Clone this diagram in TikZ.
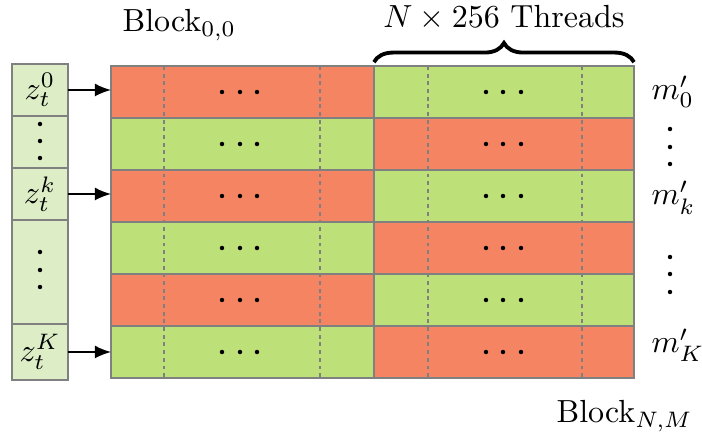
\documentclass[tikz,border=0pt]{standalone}
\usetikzlibrary{decorations.pathreplacing,arrows.meta}
\definecolor{cellorange}{RGB}{245,133,98}
\definecolor{cellgreen}{RGB}{189,224,120}
\definecolor{idxgreen}{RGB}{221,238,199}
\definecolor{edgegray}{RGB}{128,128,128}
\begin{document}
\begin{tikzpicture}[x=0.3125pt,y=-0.3125pt,
  cellbox/.style={draw=edgegray, line width=0.65pt, inner sep=0pt, outer sep=0pt,
    minimum height=52*0.3125pt},
  lefthalf/.style={cellbox, minimum width=263*0.3125pt},
  righthalf/.style={cellbox, minimum width=260*0.3125pt},
  idxcell/.style={draw=edgegray, line width=0.65pt, fill=idxgreen, inner sep=0pt,
    outer sep=0pt, minimum width=56*0.3125pt},
  threadsep/.style={draw=edgegray, line width=0.4pt, dash pattern=on 1.2pt off 1.2pt},
  feed/.style={-{Latex[length=5pt,width=4pt]}, line width=0.5pt},
  dot/.style={fill=black}
]
\useasboundingbox (0,0) rectangle (702,437);

% thread grid: six rows, each split into two blocks
\node[lefthalf,  fill=cellorange] (r0L) at (242.5,92)  {};
\node[righthalf, fill=cellgreen]  (r0R) at (504,92)    {};
\node[lefthalf,  fill=cellgreen]  (r1L) at (242.5,144) {};
\node[righthalf, fill=cellorange] (r1R) at (504,144)   {};
\node[lefthalf,  fill=cellorange] (r2L) at (242.5,196) {};
\node[righthalf, fill=cellgreen]  (r2R) at (504,196)   {};
\node[lefthalf,  fill=cellgreen]  (r3L) at (242.5,248) {};
\node[righthalf, fill=cellorange] (r3R) at (504,248)   {};
\node[lefthalf,  fill=cellorange] (r4L) at (242.5,300) {};
\node[righthalf, fill=cellgreen]  (r4R) at (504,300)   {};
\node[lefthalf,  fill=cellgreen]  (r5L) at (242.5,352) {};
\node[righthalf, fill=cellorange] (r5R) at (504,352)   {};

% thread separators
\foreach \xx in {164,320,428,582}
  \draw[threadsep] (\xx,66) -- (\xx,378);
% redraw borders on top of separators
\foreach \r in {r0L,r0R,r1L,r1R,r2L,r2R,r3L,r3R,r4L,r4R,r5L,r5R}
  \draw[draw=edgegray, line width=0.65pt] (\r.north west) rectangle (\r.south east);

% horizontal ellipses in each block
\foreach \yy in {92,144,196,248,300,352}
  \foreach \xx in {222,240,257,486,503,521}
    \fill[dot] (\xx,\yy) circle[radius=0.7pt];

% index column
\node[idxcell, minimum height=52*0.3125pt]  (z0)  at (40,90)  {$z_t^0$};
\node[idxcell, minimum height=52*0.3125pt]  (zd1) at (40,142) {};
\node[idxcell, minimum height=52*0.3125pt]  (zk)  at (40,194) {$z_t^k$};
\node[idxcell, minimum height=104*0.3125pt] (zd2) at (40,272) {};
\node[idxcell, minimum height=56*0.3125pt]  (zK)  at (40,352) {$z_t^K$};

\foreach \yy in {124,141,158,252,270,287}
  \fill[dot] (40,\yy) circle[radius=0.7pt];

% inputs feeding the rows
\draw[feed] (z0.east) -- (z0.east -| r0L.west);
\draw[feed] (zk.east) -- (zk.east -| r2L.west);
\draw[feed] (zK.east) -- (zK.east -| r5L.west);

% outputs
\node[anchor=base west, inner sep=0pt] (m0) at (651,100) {$m'_0$};
\node[anchor=base west, inner sep=0pt] (mk) at (651,205) {$m'_k$};
\node[anchor=base west, inner sep=0pt] (mK) at (651,353) {$m'_K$};
\foreach \yy in {129,147,164,257,274,292}
  \fill[dot] (670,\yy) circle[radius=0.7pt];

% block labels and thread count
\node[anchor=base west, inner sep=0pt] (b00) at (122,32) {Block$_{0,0}$};
\node[anchor=base west, inner sep=0pt] (bNM) at (556,423) {Block$_{N,M}$};
\coordinate (brl) at ([yshift=1.2pt]r0R.north west);
\coordinate (brr) at ([yshift=1.2pt]r0R.north east);
\draw[decorate, decoration={brace, amplitude=6pt}, line width=1.2pt] (brl) -- (brr);
\node[anchor=base, inner sep=0pt] (thr) at (504,28) {$N\times256$ Threads};
\end{tikzpicture}
\end{document}
